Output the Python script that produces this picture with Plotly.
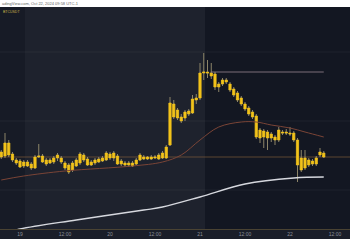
import pandas as pd
import plotly.graph_objects as go

# ---- data (hourly candles) ----
start_time = "2024-10-18 19:00"
n_candles = 87

opens = [67075, 67100, 67425, 67150, 67000, 66975, 66850, 66950, 66900, 66800,
         67075, 67100, 67000, 66925, 66950, 67050, 67050, 66925, 66875, 66750,
         66850, 66925, 67125, 67025, 66950, 66925, 66950, 66975, 67000, 67150,
         67050, 67100, 66975, 66925, 66875, 66925, 66900, 67000, 67075, 67075,
         67025, 67050, 67025, 67050, 67050, 67375, 68400, 68250, 68075, 68050,
         68150, 68175, 68500, 68550, 69175, 69200, 69175, 69150, 68900, 68900,
         68950, 68900, 68775, 68675, 68550, 68400, 68300, 68200, 68100, 67750,
         67575, 67700, 67650, 67575, 67500, 67700, 67700, 67675, 67675, 67500,
         67050, 66800, 66875, 66900, 66900, 67125, 67175]
closes = [67200, 67425, 67125, 67000, 66925, 66825, 66950, 66850, 66800, 67075,
          67100, 66950, 66900, 67000, 67050, 67125, 66950, 66800, 66700, 66925,
          67000, 67150, 67000, 66875, 66875, 67000, 67025, 67050, 67175, 67050,
          67175, 66900, 66900, 66875, 66925, 66850, 67000, 67125, 67025, 67025,
          67075, 67075, 67125, 67175, 67325, 68425, 68075, 68050, 67975, 68200,
          68225, 68525, 68550, 69175, 69200, 69175, 69100, 68825, 68825, 69000,
          69000, 68750, 68625, 68500, 68400, 68275, 68150, 68075, 67575, 67550,
          67725, 67550, 67550, 67500, 67750, 67675, 67675, 67650, 67500, 66875,
          66750, 67050, 67000, 66975, 67050, 67200, 67075]
highs = [67250, 67675, 67500, 67200, 67050, 67025, 67000, 67000, 66950, 67125,
         67400, 67150, 67050, 67050, 67100, 67175, 67100, 66975, 66925, 66975,
         67050, 67200, 67175, 67075, 67000, 67050, 67075, 67100, 67225, 67200,
         67225, 67150, 67025, 66975, 66975, 66975, 67050, 67175, 67125, 67100,
         67125, 67125, 67175, 67225, 67375, 68575, 68500, 68300, 68150, 68250,
         68275, 68625, 68650, 69425, 69675, 69500, 69425, 69200, 68950, 69050,
         69050, 68950, 68825, 68725, 68600, 68450, 68350, 68250, 68150, 67800,
         67775, 67750, 67700, 67625, 67825, 67750, 67775, 67825, 67725, 67550,
         67250, 67250, 67050, 67025, 67100, 67300, 67225]
lows = [67025, 67050, 67075, 66950, 66875, 66800, 66800, 66825, 66750, 66775,
        67050, 66925, 66850, 66900, 66900, 66975, 66900, 66750, 66650, 66700,
        66825, 66875, 66950, 66850, 66850, 66875, 66925, 66950, 66975, 67000,
        66975, 66875, 66850, 66825, 66825, 66825, 66875, 66975, 67000, 67000,
        67000, 67025, 67000, 67025, 67025, 67350, 68025, 68000, 67925, 67975,
        68100, 68150, 68400, 68500, 69000, 69050, 69025, 68750, 68700, 68850,
        68900, 68700, 68575, 68450, 68350, 68225, 68100, 68025, 67525, 67425,
        67300, 67250, 67450, 67375, 67450, 67625, 67625, 67600, 67450, 66450,
        66700, 66750, 66825, 66850, 66850, 67075, 67050]

# moving averages, values read at sample times
ma_fast_times = ["2024-10-18 19:00", "2024-10-19 01:00", "2024-10-19 12:00", "2024-10-20 06:00",
                 "2024-10-20 14:00", "2024-10-20 19:00", "2024-10-21 00:00", "2024-10-21 05:00",
                 "2024-10-21 11:00", "2024-10-21 15:00", "2024-10-21 19:00", "2024-10-22 00:00",
                 "2024-10-22 04:00", "2024-10-22 09:00"]
ma_fast = [66500, 66600, 66725, 66850, 66950, 67125, 67500, 67825,
           67950, 67950, 67875, 67800, 67700, 67575]

ma_slow_times = ["2024-10-18 19:00", "2024-10-19 00:00", "2024-10-19 15:00", "2024-10-20 09:00",
                 "2024-10-20 14:00", "2024-10-21 00:00", "2024-10-21 12:00", "2024-10-22 01:00",
                 "2024-10-22 09:00"]
ma_slow = [65150, 65275, 65500, 65750, 65825, 66075, 66400, 66550, 66575]

resistance_price = 69200
resistance_start = "2024-10-21 03:00"
resistance_end = "2024-10-22 09:00"

tick_vals = ["2024-10-19 00:00", "2024-10-19 12:00", "2024-10-20 00:00", "2024-10-20 12:00",
             "2024-10-21 00:00", "2024-10-21 12:00", "2024-10-22 00:00", "2024-10-22 12:00"]
tick_text = ["19", "12:00", "20", "12:00", "21", "12:00", "22", "12:00"]
grid_prices = [66250, 67975, 69700]

x_range = ["2024-10-18 18:40", "2024-10-22 16:00"]
y_range = [65275, 70825]
shade_dark_left = ["2024-10-18 18:40", "2024-10-19 01:20"]
shade_light = ["2024-10-19 01:20", "2024-10-21 01:20"]

header_text = "adingView.com, Oct 22, 2024 09:58 UTC-1"
symbol_text = "BTCUSDT"

# ---- build ----
times = pd.date_range(start_time, periods=n_candles, freq="h")
body_hi = [max(o, c) for o, c in zip(opens, closes)]
body_lo = [min(o, c) for o, c in zip(opens, closes)]

# wicks only outside the bodies (scatter layer sits above candle bodies)
wick_x, wick_y = [], []
for t, h, l, bh, bl in zip(times, highs, lows, body_hi, body_lo):
    if h > bh:
        wick_x += [t, t, None]
        wick_y += [bh, h, None]
    if l < bl:
        wick_x += [t, t, None]
        wick_y += [l, bl, None]

YEL = "#f2c31b"
fig = go.Figure()

fig.add_trace(go.Candlestick(
    x=times, open=opens, close=closes, high=body_hi, low=body_lo,
    increasing=dict(line=dict(color=YEL, width=0.8), fillcolor=YEL),
    decreasing=dict(line=dict(color=YEL, width=0.8), fillcolor=YEL),
    whiskerwidth=0, hoverinfo="skip"))
fig.add_trace(go.Scatter(x=wick_x, y=wick_y, mode="lines",
                         line=dict(color="#9a9170", width=0.9), hoverinfo="skip"))
fig.add_trace(go.Scatter(x=ma_slow_times, y=ma_slow, mode="lines",
                         line=dict(color="#d6d8de", width=1.3, shape="spline"),
                         hoverinfo="skip"))
fig.add_trace(go.Scatter(x=ma_fast_times, y=ma_fast, mode="lines",
                         line=dict(color="#7a4436", width=1, shape="spline"),
                         hoverinfo="skip"))
fig.add_trace(go.Scatter(x=[resistance_start, resistance_end],
                         y=[resistance_price, resistance_price], mode="lines",
                         line=dict(color="rgba(160,140,150,0.75)", width=1.2),
                         hoverinfo="skip"))

shapes = [
    dict(type="rect", xref="x", yref="paper", x0=shade_dark_left[0], x1=shade_dark_left[1],
         y0=0, y1=1, fillcolor="#171b26", line_width=0, layer="below"),
    dict(type="rect", xref="x", yref="paper", x0=shade_light[0], x1=shade_light[1],
         y0=0, y1=1, fillcolor="#1e222d", line_width=0, layer="below"),
    dict(type="rect", xref="paper", yref="paper", x0=0, x1=1, y0=-10 / 222, y1=0,
         fillcolor="#1a1e29", line_width=0, layer="below"),
    dict(type="line", xref="paper", yref="y", x0=0, x1=1, y0=closes[-1], y1=closes[-1],
         line=dict(color="rgba(140,100,60,0.6)", width=1), layer="below"),
]
for gp in grid_prices:
    shapes.append(dict(type="line", xref="paper", yref="y", x0=0, x1=1, y0=gp, y1=gp,
                       line=dict(color="rgba(255,255,255,0.05)", width=1), layer="below"))

fig.update_layout(
    width=350, height=250,
    margin=dict(l=0, r=0, t=7, b=21),
    paper_bgcolor="white",
    plot_bgcolor="#131722",
    showlegend=False,
    boxgap=0.15,
    shapes=shapes,
    annotations=[
        dict(text=header_text, xref="paper", yref="paper", x=0, y=1 + 3.5 / 222,
             xanchor="left", yanchor="middle", showarrow=False,
             font=dict(size=4, color="#666666", family="Liberation Sans")),
        dict(text=symbol_text, xref="paper", yref="paper", x=0.002, y=1 - 4.5 / 222,
             xanchor="left", yanchor="middle", showarrow=False,
             font=dict(size=3.5, color="#c9b24a", family="Liberation Sans")),
    ],
    xaxis=dict(type="date", range=x_range, tickvals=tick_vals, ticktext=tick_text,
               showgrid=False, zeroline=False, showline=True, linecolor="#4a4333",
               linewidth=1, ticks="", tickfont=dict(size=5, color="#8b8e97",
               family="Liberation Sans"), rangeslider=dict(visible=False),
               fixedrange=True),
    yaxis=dict(range=y_range, showgrid=False, zeroline=False, showticklabels=False,
               fixedrange=True),
)

fig.write_html("out.html", config={"displayModeBar": False})
